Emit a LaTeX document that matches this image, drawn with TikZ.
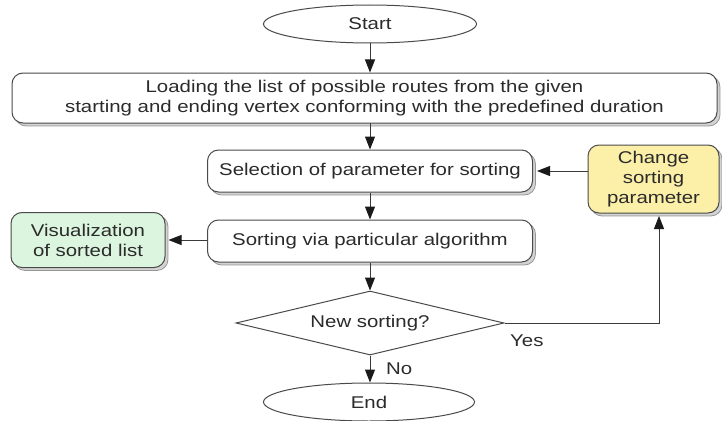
\documentclass[tikz,border=0pt]{standalone}
\usepackage{fontspec}
\setmainfont{Liberation Sans}[FakeStretch=1.2]
\usetikzlibrary{shapes.geometric,shadows,arrows.meta}

\definecolor{edge}{HTML}{4A4A4A}
\definecolor{wire}{HTML}{3A3A3A}
\definecolor{tipc}{HTML}{1A1A1A}
\definecolor{txt}{HTML}{2B2B2B}
\definecolor{shade}{HTML}{A8A8A8}
\definecolor{paleyellow}{HTML}{FCEFA8}
\definecolor{palegreen}{HTML}{DCF5DE}

\tikzset{
  every node/.style={font=\fontsize{17}{20}\selectfont, text=txt},
  procbox/.style={draw=edge, line width=1pt, rounded corners=11pt, fill=white,
    align=center, inner sep=0pt,
    drop shadow={shadow xshift=3pt, shadow yshift=-3pt, fill=shade, draw=edge, line width=0.8pt}},
  terminal/.style={ellipse, draw=edge, line width=1pt, fill=white, inner sep=0pt},
  decision/.style={diamond, draw=edge, line width=1pt, fill=white, inner sep=0pt, aspect=4.19},
  arr/.style={draw=wire, line width=1pt, -{Triangle[length=13pt,width=10pt,color=tipc]}},
  lbl/.style={inner sep=0pt}
}

\begin{document}
\begin{tikzpicture}[x=1pt, y=-1pt]
  \useasboundingbox[clip] (0,0) rectangle (722,420);

  % terminals
  \node[terminal, minimum width=213pt, minimum height=38pt] (start) at (370,24) {Start};
  \node[terminal, minimum width=211pt, minimum height=38pt] (end) at (369,402) {End};

  % process steps
  \node[procbox, minimum width=705pt, minimum height=50pt] (load) at (364.5,98)
    {Loading the list of possible routes from the given\\starting and ending vertex conforming with the predefined duration};
  \node[procbox, minimum width=325pt, minimum height=42pt] (sel) at (370,171)
    {Selection of parameter for sorting};
  \node[procbox, minimum width=325pt, minimum height=42pt] (sort) at (370,241)
    {Sorting via particular algorithm};
  \node[procbox, fill=palegreen, minimum width=154pt, minimum height=55pt] (vis) at (88,240)
    {Visualization\\of sorted list};
  \node[procbox, fill=paleyellow, minimum width=131pt, minimum height=68pt] (chg) at (653.5,179)
    {Change\\sorting\\parameter};

  % decision
  \node[decision, minimum width=268pt, minimum height=64pt] (dec) at (370,323) {New sorting?};

  % connector end points (arrow tips meet the shadow edges)
  \coordinate (selR) at ([xshift=4pt]sel.east);
  \coordinate (visR) at ([xshift=3pt]vis.east);
  \coordinate (bend) at (659,323);
  \coordinate (chgB) at (659,216);

  % main flow
  \draw[arr] (start.south) -- (start.south |- load.north);
  \draw[arr] (370,123) -- (sel.north);
  \draw[arr] (sel.south) -- (sort.north);
  \draw[arr] (sort.south) -- (dec.north);
  \draw[arr] (dec.south) -- (dec.south |- end.north);

  % side branches
  \draw[arr] (sort.west |- vis.east) -- (visR);
  \draw[arr] (chg.west |- selR) -- (selR);
  \draw[arr] (dec.east) -- (bend) -- (chgB);

  % branch labels
  \node[lbl, anchor=west] (yes) at (510,341) {Yes};
  \node[lbl, anchor=west] (no) at (386,369) {No};
\end{tikzpicture}
\end{document}
